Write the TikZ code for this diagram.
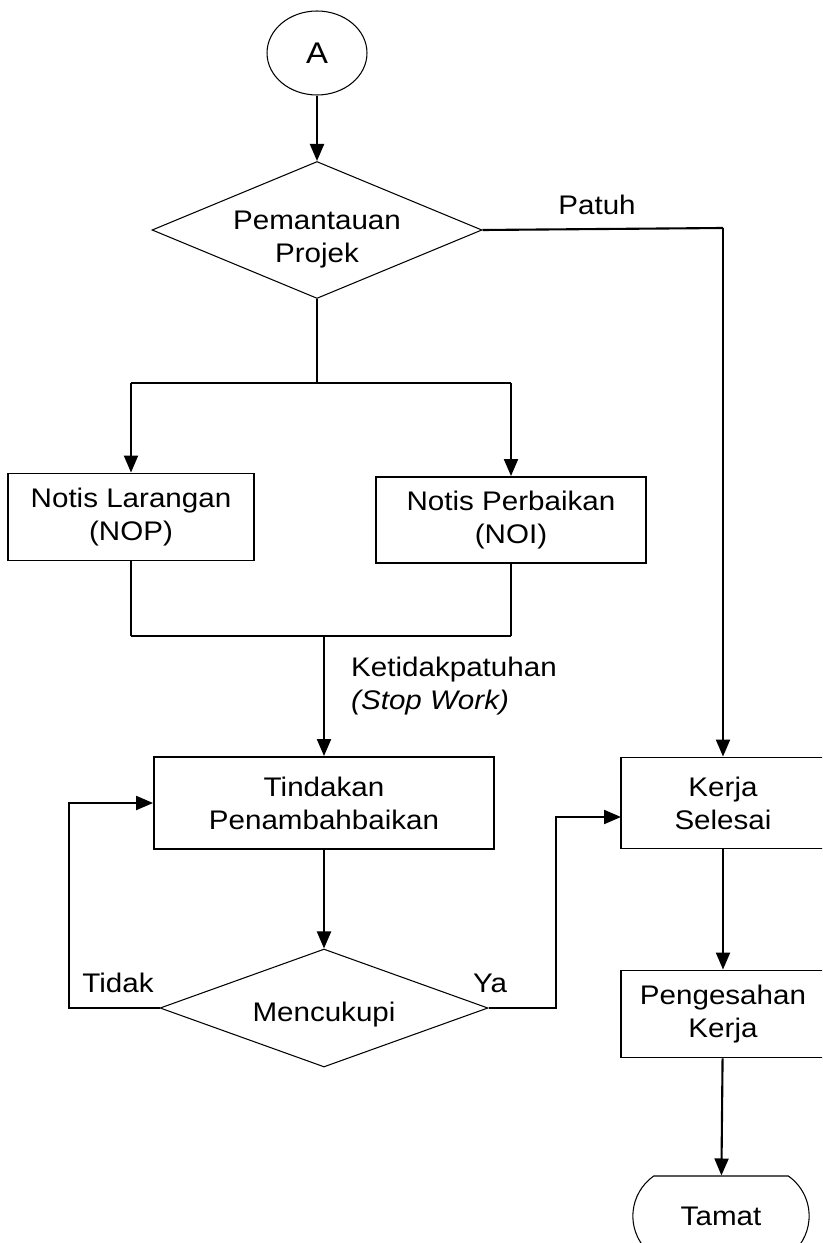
\documentclass[tikz,border=0pt]{standalone}
\usepackage{fontspec}
\setmainfont{Liberation Sans}[FakeStretch=1.1]
\usetikzlibrary{positioning}
\usetikzlibrary{shapes.geometric}
\usetikzlibrary{shapes.misc}
\usetikzlibrary{arrows.meta}

\begin{document}
\begin{tikzpicture}[x=0.02cm,y=-0.02cm,
    font=\fontsize{15.3}{18.8}\selectfont,
    kotak/.style={draw, line width=1.1pt, rectangle, align=center, inner sep=0pt},
    pilih/.style={draw, line width=0.6pt, diamond, align=center, inner sep=0pt},
    garis/.style={line width=1.2pt},
    anak/.style={line width=1.2pt, -{Triangle[length=0.34cm,width=0.28cm]}}]

\useasboundingbox (0,0) rectangle (822,1243);
\clip (0,0) rectangle (822,1243);

%\draw[gray,very thin, step=50] (0,0) grid (822,1243);

% nodes
\node[draw, ellipse, line width=0.6pt, minimum width=2cm, minimum height=1.68cm,
      font=\fontsize{17}{20}\selectfont] (mula) at (317,53) {A};
\node[pilih, minimum width=6.6cm, minimum height=2.74cm,
      label={[align=center, yshift=-0.2cm]center:Pemantauan\\Projek}] (pantau) at (317,230) {};
\node[kotak, minimum width=4.92cm, minimum height=1.74cm] (nop) at (131,517) {Notis Larangan\\(NOP)};
\node[kotak, minimum width=5.4cm, minimum height=1.72cm] (noi) at (511,520) {Notis Perbaikan\\(NOI)};
\node[kotak, minimum width=6.8cm, minimum height=1.84cm] (tindak) at (324,803) {Tindakan\\Penambahbaikan};
\node[pilih, minimum width=6.56cm, minimum height=2.36cm,
      label={[yshift=-0.14cm]center:Mencukupi}] (cukup) at (324,1008) {};
\node[kotak, minimum width=4.08cm, minimum height=1.82cm] (kerja) at (723,803) {Kerja\\Selesai};
\node[kotak, minimum width=4.08cm, minimum height=1.74cm] (sah) at (723,1014) {Pengesahan\\Kerja};
\node[draw, rounded rectangle, rounded rectangle arc length=110, line width=0.6pt,
      minimum width=3.76cm, minimum height=1.6cm] (tamat) at (721,1216) {Tamat};

% junctions
\coordinate (c1) at (317,383);
\coordinate (c1l) at (131,383);
\coordinate (c1r) at (511,383);
\coordinate (c2l) at (131,636);
\coordinate (c2r) at (511,636);
\coordinate (c2) at (324,636);
\coordinate (patuh) at (723,228);
\coordinate (tidak1) at (69,1008);
\coordinate (tidak2) at (69,803);
\coordinate (ya1) at (556,1008);
\coordinate (ya2) at (556,817);
\coordinate (ya3) at (621,817);

% connectors
\draw[anak] (mula) -- (pantau);
\draw[line width=0.6pt] (pantau.south) -- (c1);
\draw[garis] (c1l) -- (c1r);
\draw[anak] (c1l) -- (nop);
\draw[anak] (c1r) -- (noi);
\draw[line width=0.7pt] (nop.south) -- (c2l);
\draw[line width=0.7pt] (noi.south) -- (c2r);
\draw[garis] (c2l) -- (c2r);
\draw[anak] (c2) -- (tindak);
\draw[anak] (tindak) -- (cukup);
\draw[garis] (pantau.east) -- (patuh);
\draw[anak] (patuh) -- (kerja);
\draw[anak] (cukup.west) -- (tidak1) -- (tidak2) -- (tindak.west);
\draw[anak] (cukup.east) -- (ya1) -- (ya2) -- (ya3);
\draw[anak] (kerja) -- (sah);
\draw[anak] (sah) -- (tamat);

% labels
\node[above] (lpatuh) at (597,221) {Patuh};
\node[anchor=north west, align=left] (ltidakpatuh) at (345,651) {Ketidakpatuhan\\\textit{(Stop Work)}};
\node[above] (ltidak) at (118,999) {Tidak};
\node[above] (lya) at (490,999) {Ya};

\end{tikzpicture}
\end{document}
